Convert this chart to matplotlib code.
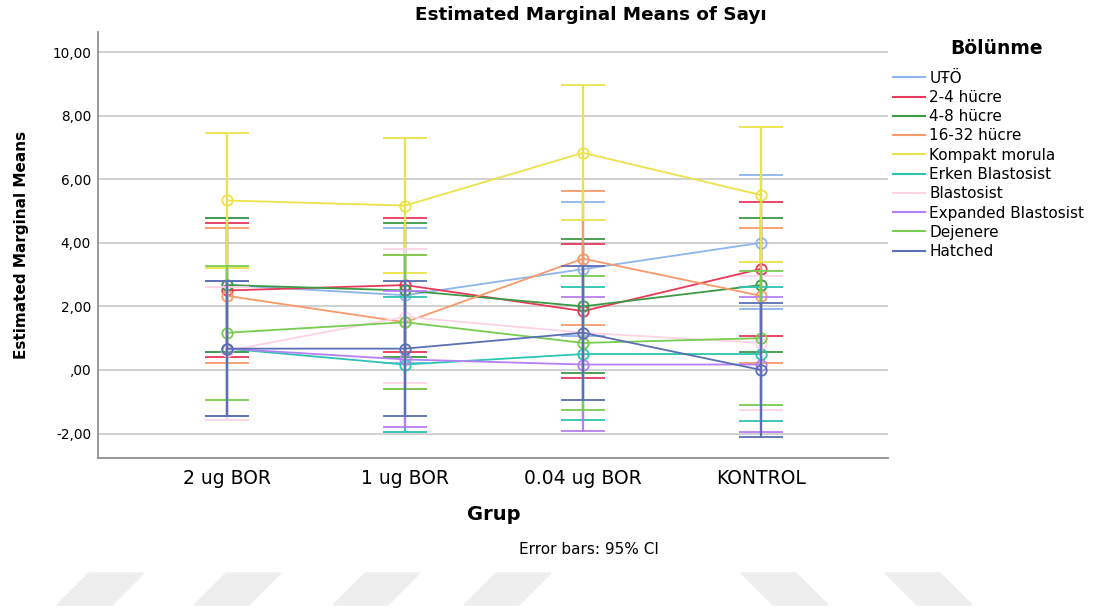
import matplotlib
matplotlib.use("Agg")
import matplotlib.pyplot as plt
from matplotlib.patches import Polygon
from matplotlib.lines import Line2D
import numpy as np

plt.rcParams['font.family'] = ['DejaVu Sans']

groups = ["2 ug BOR", "1 ug BOR", "0.04 ug BOR", "KONTROL"]
series = ["UŦÖ", "2-4 hücre", "4-8 hücre", "16-32 hücre", "Kompakt morula",
          "Erken Blastosist", "Blastosist", "Expanded Blastosist", "Dejenere", "Hatched"]
colors = ["#8db4ec", "#e8385a", "#3c9a46", "#f89a6a", "#ebe24a",
          "#2cc4b4", "#ffd3e6", "#b77ff5", "#78cc50", "#5a6fb4"]

# estimated marginal means per series (rows) and group (columns)
means = [
    [2.67, 2.35, 3.17, 4.00],
    [2.50, 2.67, 1.85, 3.18],
    [2.67, 2.50, 2.00, 2.67],
    [2.33, 1.50, 3.50, 2.33],
    [5.33, 5.17, 6.83, 5.50],
    [0.67, 0.17, 0.50, 0.50],
    [0.60, 1.67, 1.17, 0.85],
    [0.67, 0.33, 0.17, 0.17],
    [1.17, 1.50, 0.85, 1.00],
    [0.67, 0.67, 1.17, 0.00],
]
ci_low = [
    [0.58, 0.22, 1.06, 1.91],
    [0.40, 0.58, -0.26, 1.07],
    [0.58, 0.40, -0.09, 0.56],
    [0.23, -0.60, 1.40, 0.23],
    [3.22, 3.06, 4.73, 3.40],
    [-1.44, -1.94, -1.59, -1.60],
    [-1.57, -0.42, -0.94, -1.26],
    [-1.44, -1.78, -1.93, -1.94],
    [-0.94, -0.60, -1.26, -1.10],
    [-1.44, -1.44, -0.94, -2.10],
]
ci_high = [
    [4.79, 4.46, 5.28, 6.12],
    [4.63, 4.79, 3.96, 5.29],
    [4.79, 4.63, 4.12, 4.79],
    [4.46, 3.62, 5.63, 4.46],
    [7.45, 7.30, 8.96, 7.63],
    [2.80, 2.31, 2.62, 2.62],
    [2.62, 3.79, 3.28, 2.97],
    [2.80, 2.47, 2.29, 2.29],
    [3.27, 3.62, 2.96, 3.12],
    [2.80, 2.80, 3.28, 2.12],
]
yticks = [-2, 0, 2, 4, 6, 8, 10]
ytick_labels = ["-2,00", ",00", "2,00", "4,00", "6,00", "8,00", "10,00"]

W, H = 1114, 610
fig = plt.figure(figsize=(W / 100, H / 100), dpi=100)
ax = fig.add_axes([98 / W, 1 - 458 / H, (888 - 98) / W, (458 - 32) / H])

x = np.arange(len(groups))
for i, name in enumerate(series):
    m = np.array(means[i])
    lo = m - np.array(ci_low[i])
    hi = np.array(ci_high[i]) - m
    ax.errorbar(x, m, yerr=[lo, hi], color=colors[i], lw=1.3, elinewidth=1.6,
                capsize=16, capthick=1.6, marker='o', mfc='none', mec=colors[i],
                mew=1.3, ms=7.5, zorder=3 + i)

ax.set_xlim(-0.725, 3.713)
ax.set_ylim(-2.77, 10.63)
ax.set_yticks(yticks)
ax.set_yticklabels(ytick_labels, fontsize=9.8)
ax.set_xticks(x)
ax.set_xticklabels(groups, fontsize=13.5)
ax.tick_params(axis='y', length=0, pad=5)
ax.tick_params(axis='x', length=0, pad=8)
ax.grid(axis='y', color='#c8c8c8', lw=1.2, zorder=0)
for s in ['top', 'right']:
    ax.spines[s].set_visible(False)
for s in ['left', 'bottom']:
    ax.spines[s].set_color('#888888')
    ax.spines[s].set_linewidth(1.2)

fig.text(591 / W, 1 - 15 / H, "Estimated Marginal Means of Sayı", ha='center', va='center',
         fontsize=13.2, fontweight='bold')
fig.text(22 / W, 1 - 245 / H, "Estimated Marginal Means", ha='center', va='center',
         rotation=90, fontsize=11, fontweight='bold')
fig.text(494 / W, 1 - 515 / H, "Grup", ha='center', va='center', fontsize=14, fontweight='bold')
fig.text(589 / W, 1 - 550 / H, "Error bars: 95% CI", ha='center', va='center', fontsize=11)
fig.text(997 / W, 1 - 48 / H, "Bölünme", ha='center', va='center', fontsize=13.5,
         fontweight='bold')

handles = [Line2D([], [], color=c, lw=1.5) for c in colors]
leg = fig.legend(handles, series, loc='upper left', bbox_to_anchor=(888 / W, 1 - 66 / H),
                 frameon=False, fontsize=11, handlelength=2.1, handletextpad=0.3,
                 labelspacing=0.28, borderaxespad=0, borderpad=0.3)

# faint watermark stripes along the bottom edge
for x0 in [57, 194, 333, 464]:
    pts = [(x0, 605), (x0 + 55, 605), (x0 + 87, 573), (x0 + 32, 573)]
    fig.patches.append(Polygon([(px / W, 1 - py / H) for px, py in pts], closed=True,
                               transform=fig.transFigure, color='#eeeeee', zorder=0))
for x0 in [741, 885]:
    pts = [(x0, 573), (x0 + 55, 573), (x0 + 87, 605), (x0 + 32, 605)]
    fig.patches.append(Polygon([(px / W, 1 - py / H) for px, py in pts], closed=True,
                               transform=fig.transFigure, color='#eeeeee', zorder=0))

fig.savefig("out.png", dpi=100)
